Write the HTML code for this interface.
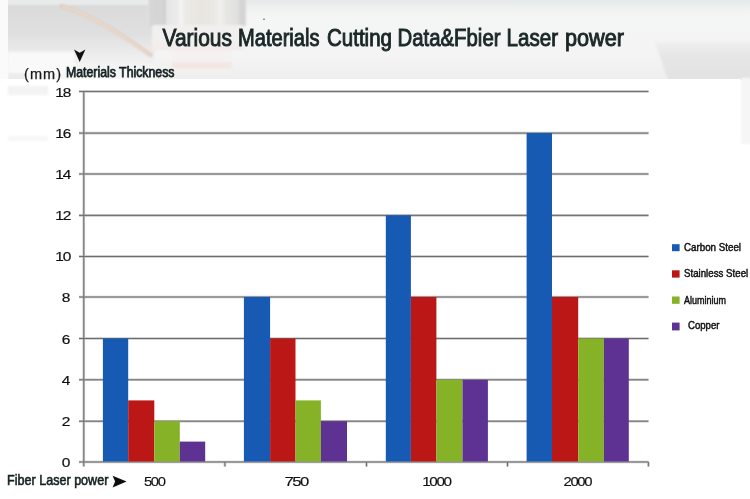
<!DOCTYPE html>
<html><head><meta charset="utf-8">
<style>
html,body{margin:0;padding:0;background:#fff;}
body{width:750px;height:499px;overflow:hidden;position:relative;font-family:"Liberation Sans",sans-serif;}
svg{position:absolute;left:0;top:0;will-change:transform;}
</style></head>
<body>
<svg width="750" height="499" viewBox="0 0 750 499" font-family="Liberation Sans, sans-serif">
  <!-- top background band -->
  <filter id="bl1" x="-20%" y="-20%" width="140%" height="140%"><feGaussianBlur stdDeviation="1.2"/></filter>
  <filter id="bl2" x="-20%" y="-20%" width="140%" height="140%"><feGaussianBlur stdDeviation="2.5"/></filter>
  <linearGradient id="bgTop" x1="0" y1="0" x2="0" y2="1">
    <stop offset="0" stop-color="#dadada"/>
    <stop offset="0.4" stop-color="#e0e0e0"/>
    <stop offset="0.6" stop-color="#e9e9e9"/>
    <stop offset="0.8" stop-color="#f3f3f3"/>
    <stop offset="1" stop-color="#f7f7f7"/>
  </linearGradient>
  <linearGradient id="bgTopR" x1="0" y1="0" x2="0" y2="1">
    <stop offset="0" stop-color="#e3e7e7"/>
    <stop offset="0.07" stop-color="#eef0f0"/>
    <stop offset="0.2" stop-color="#f4f5f5"/>
    <stop offset="0.7" stop-color="#f4f4f4"/>
    <stop offset="1" stop-color="#eeeeee"/>
  </linearGradient>
  <linearGradient id="tube" x1="0" y1="0" x2="1" y2="0">
    <stop offset="0" stop-color="#e6e6e6"/>
    <stop offset="0.02" stop-color="#d6d6d6"/>
    <stop offset="0.15" stop-color="#d5d5d5"/>
    <stop offset="0.17" stop-color="#cbcbcb"/>
    <stop offset="0.19" stop-color="#e5e5e5"/>
    <stop offset="0.306" stop-color="#ececec"/>
    <stop offset="0.337" stop-color="#f7f7f7"/>
    <stop offset="0.367" stop-color="#ecebe7"/>
    <stop offset="0.53" stop-color="#e7e5df"/>
    <stop offset="0.673" stop-color="#e9e8e3"/>
    <stop offset="0.735" stop-color="#f0f0ec"/>
    <stop offset="0.796" stop-color="#e6e6e3"/>
    <stop offset="0.918" stop-color="#e0e0de"/>
    <stop offset="0.949" stop-color="#d2d2d2"/>
    <stop offset="1" stop-color="#d8d8d8"/>
  </linearGradient>
  <rect x="0" y="0" width="750" height="80" fill="url(#bgTopR)"/>
  <rect x="0" y="4" width="155" height="76" fill="url(#bgTop)" filter="url(#bl1)"/>
  <rect x="0" y="0" width="750" height="4.5" fill="#e8ebec" filter="url(#bl1)"/>
  <!-- white area lower-left -->
  <rect x="8" y="52" width="66" height="22" fill="#f9f9f9" filter="url(#bl1)"/>
  <rect x="8" y="73" width="17" height="8" fill="#ececec" filter="url(#bl1)"/>
  <!-- beam -->
  <path d="M60 5.5 Q 95 15 152 56" stroke="#dfc9b8" stroke-width="3.6" fill="none" filter="url(#bl1)"/>
  <path d="M62 6 Q 95 15.5 150 55" stroke="#f0e2d8" stroke-width="1.4" fill="none" filter="url(#bl1)"/>
  <!-- nozzle -->
  <g filter="url(#bl1)">
    <rect x="148" y="-2" width="98" height="28" fill="url(#tube)"/>
    <rect x="152" y="25" width="92" height="25" rx="3" fill="#f1f0ee"/>
    <rect x="152" y="44" width="92" height="6" fill="#f2ecea"/>
    <rect x="172" y="50" width="60" height="22" fill="#f5f1f0"/>
    <rect x="172" y="62" width="60" height="7" fill="#f1e8e5"/>
  </g>
  <circle cx="264" cy="19.2" r="0.8" fill="#555"/>
  <!-- right gray shadow -->
  <linearGradient id="shR" x1="0" y1="0" x2="0" y2="1">
    <stop offset="0" stop-color="#efefef"/>
    <stop offset="0.35" stop-color="#e6e6e6"/>
    <stop offset="1" stop-color="#e2e2e2"/>
  </linearGradient>
  <path d="M655 42 L752 42 L752 80 L668 80 Z" fill="url(#shR)" filter="url(#bl1)"/>
  <rect x="741" y="78" width="10" height="66" fill="#f6f6f6" filter="url(#bl1)"/>
  <!-- left white strip -->
  <rect x="0" y="0" width="8" height="95" fill="#fafafa"/>
  <!-- white chart panel -->
  <rect x="0" y="79" width="740" height="420" fill="#ffffff"/>
  <rect x="8" y="86" width="40" height="9" fill="#f3f3f3" filter="url(#bl1)"/>
  <rect x="8" y="136" width="40" height="5" fill="#f7f7f7" filter="url(#bl1)"/>

  <!-- gridlines -->
  <g stroke="#c6c6c6" stroke-width="2.6">
    <line x1="79" y1="91.45" x2="648.5" y2="91.45"/>
    <line x1="79" y1="133.1" x2="648.5" y2="133.1"/>
    <line x1="79" y1="173.97" x2="648.5" y2="173.97"/>
    <line x1="79" y1="215.4" x2="648.5" y2="215.4"/>
    <line x1="79" y1="256.49" x2="648.5" y2="256.49"/>
    <line x1="79" y1="297.0" x2="648.5" y2="297.0"/>
    <line x1="79" y1="338.5" x2="648.5" y2="338.5"/>
    <line x1="79" y1="379.8" x2="648.5" y2="379.8"/>
    <line x1="79" y1="421.2" x2="648.5" y2="421.2"/>
    <line x1="79" y1="461.97" x2="648.5" y2="461.97"/>
    <line x1="83.8" y1="91" x2="83.8" y2="466.5"/>
    <line x1="224.9" y1="461.97" x2="224.9" y2="466.5"/>
    <line x1="366.5" y1="461.97" x2="366.5" y2="466.5"/>
    <line x1="507.5" y1="461.97" x2="507.5" y2="466.5"/>
    <line x1="648.4" y1="461.97" x2="648.4" y2="466.5"/>
  </g>
  <g stroke="#6c6c6c" stroke-width="1">
    <line x1="79" y1="91.45" x2="648.5" y2="91.45"/>
    <line x1="79" y1="133.1" x2="648.5" y2="133.1"/>
    <line x1="79" y1="173.97" x2="648.5" y2="173.97"/>
    <line x1="79" y1="215.4" x2="648.5" y2="215.4"/>
    <line x1="79" y1="256.49" x2="648.5" y2="256.49"/>
    <line x1="79" y1="297.0" x2="648.5" y2="297.0"/>
    <line x1="79" y1="338.5" x2="648.5" y2="338.5"/>
    <line x1="79" y1="379.8" x2="648.5" y2="379.8"/>
    <line x1="79" y1="421.2" x2="648.5" y2="421.2"/>
    <line x1="79" y1="461.97" x2="648.5" y2="461.97"/>
    <line x1="83.8" y1="91" x2="83.8" y2="466.5"/>
    <line x1="224.9" y1="461.97" x2="224.9" y2="466.5"/>
    <line x1="366.5" y1="461.97" x2="366.5" y2="466.5"/>
    <line x1="507.5" y1="461.97" x2="507.5" y2="466.5"/>
    <line x1="648.4" y1="461.97" x2="648.4" y2="466.5"/>
  </g>

  <!-- bars -->
  <g>
    <rect x="102.9" y="338.5" width="25.3" height="123.00" fill="#175ab4"/>
    <rect x="128.2" y="400.4" width="26.1" height="61.10" fill="#bb1717"/>
    <rect x="154.3" y="421.2" width="25.5" height="40.30" fill="#85b227"/>
    <rect x="179.8" y="441.6" width="25.4" height="19.90" fill="#5e3292"/>
    <rect x="243.9" y="297.0" width="26.2" height="164.50" fill="#175ab4"/>
    <rect x="270.1" y="338.5" width="25.4" height="123.00" fill="#bb1717"/>
    <rect x="295.5" y="400.4" width="25.4" height="61.10" fill="#85b227"/>
    <rect x="320.9" y="421.2" width="26.1" height="40.30" fill="#5e3292"/>
    <rect x="385.8" y="215.3" width="25.1" height="246.20" fill="#175ab4"/>
    <rect x="410.9" y="297.0" width="25.5" height="164.50" fill="#bb1717"/>
    <rect x="436.4" y="379.8" width="26.1" height="81.70" fill="#85b227"/>
    <rect x="462.5" y="379.8" width="25.4" height="81.70" fill="#5e3292"/>
    <rect x="526.6" y="133.0" width="25.4" height="328.50" fill="#175ab4"/>
    <rect x="552.0" y="297.0" width="26.2" height="164.50" fill="#bb1717"/>
    <rect x="578.2" y="338.5" width="25.7" height="123.00" fill="#85b227"/>
    <rect x="603.9" y="338.5" width="24.9" height="123.00" fill="#5e3292"/>
  </g>

  <!-- y labels -->
  <g font-size="12.9" fill="#111" stroke="#111" stroke-width="0.2" letter-spacing="-0.8">
    <text x="55.2" y="96.60" textLength="15.2" lengthAdjust="spacingAndGlyphs">18</text>
    <text x="55.2" y="137.76" textLength="15.2" lengthAdjust="spacingAndGlyphs">16</text>
    <text x="55.2" y="178.92" textLength="15.2" lengthAdjust="spacingAndGlyphs">14</text>
    <text x="55.2" y="220.08" textLength="15.2" lengthAdjust="spacingAndGlyphs">12</text>
    <text x="55.2" y="261.24" textLength="15.2" lengthAdjust="spacingAndGlyphs">10</text>
    <text transform="translate(66.15 302.40) scale(1.2 1)" text-anchor="middle" letter-spacing="0">8</text>
    <text transform="translate(66.15 343.56) scale(1.2 1)" text-anchor="middle" letter-spacing="0">6</text>
    <text transform="translate(66.15 384.72) scale(1.2 1)" text-anchor="middle" letter-spacing="0">4</text>
    <text transform="translate(66.15 425.88) scale(1.2 1)" text-anchor="middle" letter-spacing="0">2</text>
    <text transform="translate(66.15 467.04) scale(1.2 1)" text-anchor="middle" letter-spacing="0">0</text>
  </g>

  <!-- x labels -->
  <g font-size="13" fill="#111" stroke="#111" stroke-width="0.15" letter-spacing="-1.2">
    <text x="144.0" y="485.8" textLength="20.6" lengthAdjust="spacingAndGlyphs">500</text>
    <text x="284.6" y="485.8" textLength="23.2" lengthAdjust="spacingAndGlyphs">750</text>
    <text x="422.2" y="485.8" textLength="28.4" lengthAdjust="spacingAndGlyphs">1000</text>
    <text x="563.5" y="485.8" textLength="27.6" lengthAdjust="spacingAndGlyphs">2000</text>
  </g>

  <!-- title -->
  <g font-size="23.5" fill="#1b2727" stroke="#1b2727" stroke-width="0.95" lengthAdjust="spacingAndGlyphs">
    <text x="162.5" y="46" textLength="69.5" lengthAdjust="spacingAndGlyphs">Various</text>
    <text x="238" y="46" textLength="81.5" lengthAdjust="spacingAndGlyphs">Materials</text>
    <text x="327" y="46" textLength="65" lengthAdjust="spacingAndGlyphs">Cutting</text>
    <text x="397.5" y="46" textLength="103" lengthAdjust="spacingAndGlyphs">Data&amp;Fbier</text>
    <text x="506.5" y="46" textLength="51.5" lengthAdjust="spacingAndGlyphs">Laser</text>
    <text x="565" y="46" textLength="59" lengthAdjust="spacingAndGlyphs">power</text>
  </g>

  <!-- y axis title -->
  <path d="M74 49.5 L79.7 52.8 L85.4 49.5 L79.7 62 Z" fill="#111"/>
  <text x="24" y="78.8" font-size="14.5" fill="#1a1a1a" stroke="#1a1a1a" stroke-width="0.25" textLength="37">(mm)</text>
  <text x="66" y="76.7" font-size="14" fill="#162222" stroke="#162222" stroke-width="0.75" textLength="108.5" lengthAdjust="spacingAndGlyphs">Materials Thickness</text>

  <!-- x axis title -->
  <text x="7" y="485.3" font-size="14.4" fill="#162222" stroke="#162222" stroke-width="0.6" textLength="101.4" lengthAdjust="spacingAndGlyphs">Fiber Laser power</text>
  <path d="M112.6 475.8 L126.6 481.6 L112.6 487.4 L115.1 481.6 Z" fill="#0d0d0d"/>

  <!-- legend -->
  <rect x="672" y="244.2" width="7.6" height="7" fill="#175ab4"/>
  <rect x="672" y="270.3" width="7.6" height="7.3" fill="#bb1717"/>
  <rect x="672" y="296.5" width="7.6" height="7.3" fill="#85b227"/>
  <rect x="672" y="322.6" width="7.6" height="7.8" fill="#5e3292"/>
  <g font-size="10.2" fill="#111" stroke="#111" stroke-width="0.45">
    <text x="684" y="250.7" textLength="57" lengthAdjust="spacingAndGlyphs">Carbon Steel</text>
    <text x="684" y="276.5" textLength="64.2" lengthAdjust="spacingAndGlyphs">Stainless Steel</text>
    <text x="684" y="303.8" textLength="42" lengthAdjust="spacingAndGlyphs">Aluminium</text>
    <text x="688" y="329.4" textLength="31.5" lengthAdjust="spacingAndGlyphs">Copper</text>
  </g>
</svg>
</body></html>
